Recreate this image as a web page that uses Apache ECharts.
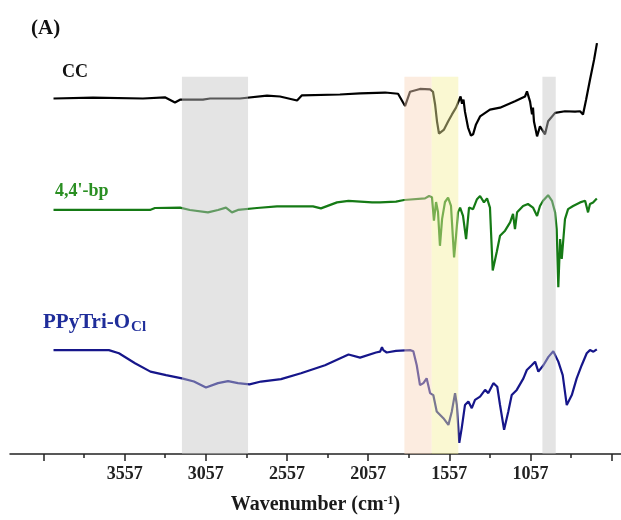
<!DOCTYPE html>
<html>
<head>
<meta charset="utf-8">
<script src="https://cdn.jsdelivr.net/npm/echarts@6/dist/echarts.min.js"></script>
<style>
  html, body { margin: 0; padding: 0; background: #fff; }
  #chart { width: 621px; height: 520px; }
</style>
</head>
<body>
<div id="chart"></div>
<script>
// FTIR spectra, offset for display (arbitrary units)
const ccWave = [3995, 3752, 3444, 3432, 3309, 3247, 3216, 3075, 3031, 2847, 2680, 2600, 2495, 2465, 2231, 2107, 1953, 1873, 1830, 1799, 1738, 1676, 1658, 1645, 1633, 1621, 1609, 1590, 1565, 1541, 1516, 1498, 1488, 1479, 1470, 1461, 1442, 1424, 1411, 1393, 1368, 1307, 1245, 1153, 1091, 1079, 1060, 1048, 1042, 1036, 1017, 999, 986, 968, 949, 906, 845, 783, 752, 734, 715, 691, 666, 648]
const ccVal = [89.3, 89.5, 89.3, 89.6, 89.6, 88.3, 89.0, 89.0, 89.3, 89.3, 90.0, 89.8, 88.8, 90.1, 90.3, 90.6, 90.8, 90.5, 87.4, 91.0, 91.7, 91.6, 91.0, 87.8, 83.5, 80.5, 80.0, 81.5, 83.5, 85.3, 87.0, 88.8, 89.8, 88.0, 89.0, 86.0, 82.0, 80.0, 80.3, 82.8, 84.8, 86.5, 87.0, 88.6, 89.8, 91.1, 88.5, 85.3, 87.0, 83.5, 79.8, 82.3, 81.5, 80.3, 83.6, 85.7, 86.1, 86.0, 86.1, 85.3, 89.0, 94.0, 99.0, 103.2]

const bpWave = [3995, 3401, 3370, 3216, 3155, 3044, 2982, 2933, 2896, 2859, 2742, 2619, 2397, 2348, 2249, 2178, 2033, 1984, 1886, 1836, 1707, 1682, 1664, 1652, 1639, 1627, 1615, 1602, 1584, 1565, 1547, 1528, 1516, 1504, 1491, 1473, 1454, 1436, 1411, 1387, 1368, 1344, 1325, 1307, 1290, 1265, 1245, 1214, 1183, 1165, 1153, 1140, 1103, 1073, 1042, 1017, 999, 980, 949, 925, 906, 896, 886, 875, 865, 855, 845, 826, 795, 752, 721, 703, 691, 672, 649]
const bpVal = [61.3, 61.3, 61.8, 61.9, 61.3, 60.7, 61.3, 61.9, 60.7, 61.3, 61.8, 62.2, 62.2, 61.7, 63.2, 63.6, 63.2, 63.2, 63.4, 63.8, 64.2, 64.8, 64.5, 58.6, 63.3, 60.8, 52.3, 59.0, 63.3, 64.4, 62.3, 49.4, 54.8, 60.7, 61.9, 59.8, 54.0, 61.9, 61.5, 64.0, 64.8, 63.2, 64.2, 61.9, 46.1, 50.8, 54.8, 56.1, 58.2, 60.3, 56.5, 60.7, 62.3, 62.8, 61.9, 59.8, 62.3, 63.6, 65.0, 63.6, 60.7, 56.5, 41.9, 54.0, 49.0, 54.0, 59.0, 61.5, 62.3, 63.2, 63.6, 60.7, 62.8, 63.2, 64.2]

const ppWave = [3995, 3654, 3592, 3493, 3398, 3302, 3204, 3130, 3056, 2982, 2920, 2859, 2788, 2717, 2594, 2471, 2323, 2178, 2107, 2009, 1984, 1972, 1964, 1943, 1886, 1799, 1779, 1758, 1738, 1717, 1697, 1676, 1656, 1635, 1594, 1563, 1542, 1522, 1511, 1496, 1481, 1461, 1440, 1419, 1399, 1368, 1337, 1317, 1286, 1262, 1245, 1220, 1194, 1173, 1142, 1101, 1080, 1050, 1029, 1009, 978, 947, 917, 886, 859, 834, 803, 773, 742, 711, 691, 670, 649]
const ppVal = [26.1, 26.1, 25.3, 22.8, 20.7, 19.8, 19.0, 18.2, 16.7, 17.8, 18.3, 17.8, 17.5, 18.2, 18.8, 20.3, 22.3, 25.0, 24.2, 25.5, 25.7, 26.8, 26.1, 25.5, 25.9, 26.1, 25.8, 22.3, 17.3, 17.8, 19.0, 15.3, 14.8, 10.7, 9.0, 7.3, 10.7, 15.3, 12.3, 2.8, 6.5, 12.3, 13.2, 11.5, 13.6, 14.4, 16.1, 15.3, 17.8, 16.9, 12.3, 6.1, 10.7, 14.8, 16.1, 19.0, 21.1, 22.3, 23.2, 20.7, 22.3, 24.4, 25.8, 23.2, 19.8, 12.3, 14.8, 19.0, 22.3, 25.3, 26.1, 25.7, 26.3]

// highlighted regions [from, to] in cm-1
const bandRanges = [[3204, 2797], [1834, 1666], [1666, 1502], [984, 902]]
const bandColors = ['rgba(195,195,195,0.45)', 'rgba(248,213,186,0.45)', 'rgba(244,239,155,0.45)', 'rgba(195,195,195,0.45)']
const bandTop = 94.75

const majorTicks = [4057, 3557, 3057, 2557, 2057, 1557, 1057, 557]
const minorTicks = [3807, 3307, 2807, 2307, 1807, 1307, 807]
const tickLabels = [3557, 3057, 2557, 2057, 1557, 1057]

function zip(xs, ys) {
    return xs.map((x, i) => [x, ys[i]])
}

const serif = 'Liberation Serif, Times New Roman, serif'
const chart = echarts.init(document.getElementById('chart'), null, { renderer: 'canvas' })

const axisBase = {
    type: 'value',
    gridIndex: 0,
    position: 'bottom',
    inverse: true,
    min: 500,
    max: 4263,
    splitLine: { show: false }
}

chart.setOption({
    animation: false,
    backgroundColor: '#fff',
    grid: { left: 10, right: 0, top: 36, bottom: 64 },
    xAxis: [
        Object.assign({}, axisBase, {
            name: 'Wavenumber (cm{sup|-1})',
            nameLocation: 'middle',
            nameGap: 41,
            nameTextStyle: {
                fontFamily: serif, fontWeight: 'bold', fontSize: 20, color: '#1a1a1a',
                rich: { sup: { fontFamily: serif, fontWeight: 'bold', fontSize: 12, color: '#1a1a1a', verticalAlign: 'top', padding: [0, 0, 8, 0] } }
            },
            axisLine: { show: true, lineStyle: { color: '#222', width: 1.5 } },
            axisTick: { show: true, length: 7, customValues: majorTicks, lineStyle: { color: '#222', width: 1.5 } },
            axisLabel: {
                customValues: tickLabels,
                formatter: v => String(v),
                margin: 11,
                fontFamily: serif, fontWeight: 'bold', fontSize: 18, color: '#222'
            }
        }),
        Object.assign({}, axisBase, {
            axisLine: { show: false },
            axisTick: { show: true, length: 4, customValues: minorTicks, lineStyle: { color: '#222', width: 1.5 } },
            axisLabel: { show: false }
        })
    ],
    yAxis: { type: 'value', min: 0, max: 105, show: false, splitLine: { show: false } },
    series: [
        {
            name: 'CC', type: 'line', showSymbol: false, z: 2,
            data: zip(ccWave, ccVal),
            lineStyle: { color: '#000', width: 2.2 }
        },
        {
            name: "4,4'-bp", type: 'line', showSymbol: false, z: 2,
            data: zip(bpWave, bpVal),
            lineStyle: { color: '#157a15', width: 2.2 }
        },
        {
            name: 'PPyTri-OCl', type: 'line', showSymbol: false, z: 2,
            data: zip(ppWave, ppVal),
            lineStyle: { color: '#16168a', width: 2.2 }
        },
        {
            name: 'bands', type: 'custom', z: 5, silent: true,
            encode: { x: [0, 1] },
            data: bandRanges.map((r, i) => [r[0], r[1], i]),
            renderItem: function (params, api) {
                const a = api.coord([api.value(0), bandTop])
                const b = api.coord([api.value(1), 0])
                return {
                    type: 'rect',
                    shape: { x: a[0], y: a[1], width: b[0] - a[0], height: b[1] - a[1] },
                    style: { fill: bandColors[api.value(2)] }
                }
            }
        }
    ],
    graphic: [
        { type: 'text', left: 31, top: 18, style: { text: '(A)', font: 'bold 21px ' + serif, fill: '#111' } },
        { type: 'text', left: 62, top: 63, style: { text: 'CC', font: 'bold 18px ' + serif, fill: '#111' } },
        { type: 'text', left: 55, top: 182, style: { text: "4,4'-bp", font: 'bold 18px ' + serif, fill: '#2a8f22' } },
        {
            type: 'text', left: 43, top: 312,
            style: {
                text: 'PPyTri-O{sub|Cl}', font: 'bold 21px ' + serif, fill: '#1f2d9a',
                rich: { sub: { font: 'bold 15px ' + serif, fill: '#1f2d9a', padding: [10, 0, 0, 1] } }
            }
        }
    ]
})
</script>
</body>
</html>
